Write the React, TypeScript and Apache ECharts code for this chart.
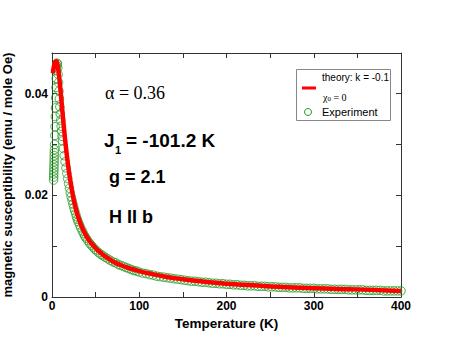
import React, { useEffect, useRef } from "react";
import * as echarts from "echarts";

// Experiment: [Temperature (K), susceptibility (emu / mole Oe)]
const experimentT = [
  1.8, 1.9, 2.0, 2.1, 2.2, 2.3, 2.4, 2.5, 2.6, 2.7, 2.8, 3.0, 3.3, 3.5, 3.8, 4.0, 4.3, 4.6, 4.9, 5.2,
  5.5, 5.8, 6.2, 6.6, 7.0, 7.5, 8.0, 8.5, 9.0, 9.5, 10, 10.5, 11, 11.5, 12, 13, 14, 15, 16, 17,
  18, 19, 20, 21, 22, 23, 24, 25, 26, 27, 28, 29, 30, 31.5, 33, 34.5, 36, 37.5, 39, 41,
  43, 45, 47, 49, 51, 53.5, 56, 58.5, 61, 64, 67, 70, 73, 76, 79, 82, 85, 88, 91, 94,
  97, 100, 104, 108, 112, 116, 120, 124, 128, 132, 136, 140, 144, 148, 152, 156, 160, 164, 168, 172,
  176, 180, 184, 188, 192, 196, 200, 204, 208, 212, 216, 220, 224, 228, 232, 236, 240, 244, 248, 252,
  256, 260, 264, 268, 272, 276, 280, 284, 288, 292, 296, 300, 304, 308, 312, 316, 320, 324, 328, 332,
  336, 340, 344, 348, 352, 356, 360, 364, 368, 372, 376, 380, 384, 388, 392, 396, 400,
];
const experimentChi = [
  0.0230, 0.0236, 0.0242, 0.0248, 0.0254, 0.0260, 0.0266, 0.0272, 0.0278, 0.0284, 0.0290, 0.0300, 0.0318, 0.0335, 0.0355, 0.0372, 0.0392, 0.0412, 0.0430, 0.0445,
  0.0455, 0.0460, 0.0458, 0.0450, 0.0438, 0.0422, 0.0405, 0.0390, 0.0374, 0.0360, 0.0348, 0.0336, 0.0326, 0.0316, 0.0307, 0.0292, 0.0278, 0.0266, 0.0254, 0.0243,
  0.0233, 0.0223, 0.0214, 0.0205, 0.0197, 0.0190, 0.0183, 0.0176, 0.0170, 0.0164, 0.0158, 0.0153, 0.0148, 0.0142, 0.0136, 0.0130, 0.0125, 0.0120, 0.0116, 0.0111,
  0.0106, 0.0102, 0.0098, 0.0094, 0.0091, 0.0087, 0.0084, 0.0081, 0.0078, 0.0075, 0.0072, 0.0069, 0.0067, 0.0064, 0.0062, 0.0060, 0.0058, 0.0056, 0.0054, 0.0052,
  0.0051, 0.0049, 0.0047, 0.0046, 0.0044, 0.0043, 0.0041, 0.0040, 0.0039, 0.0038, 0.0037, 0.0036, 0.0035, 0.0034, 0.0033, 0.0032, 0.0031, 0.0031, 0.0030, 0.0029,
  0.0029, 0.0028, 0.0027, 0.0027, 0.0026, 0.0026, 0.0025, 0.0025, 0.0024, 0.0024, 0.0023, 0.0023, 0.0022, 0.0022, 0.0022, 0.0021, 0.0021, 0.0021, 0.0020, 0.0020,
  0.0020, 0.0019, 0.0019, 0.0019, 0.0018, 0.0018, 0.0018, 0.0018, 0.0017, 0.0017, 0.0017, 0.0017, 0.0016, 0.0016, 0.0016, 0.0016, 0.0015, 0.0015, 0.0015, 0.0015,
  0.0015, 0.0014, 0.0014, 0.0014, 0.0014, 0.0014, 0.0013, 0.0013, 0.0013, 0.0013, 0.0013, 0.0012, 0.0012, 0.0012, 0.0012, 0.0012, 0.0012,
];

// Theory (k = -0.1, chi0 = 0)
const theoryT = [
  1, 2, 3, 4, 5, 6, 7, 8, 9, 10, 11, 12, 13, 14, 15, 16, 17, 18, 19, 20,
  22, 24, 26, 28, 30, 33, 36, 40, 45, 50, 55, 60, 70, 80, 90, 100, 115, 130, 150, 175,
  200, 230, 260, 300, 350, 400,
];
const theoryChi = [
  0.0440, 0.0452, 0.0459, 0.0463, 0.0464, 0.0460, 0.0450, 0.0436, 0.0420, 0.0402, 0.0383, 0.0364, 0.0345, 0.0327, 0.0310, 0.0294, 0.0279, 0.0265, 0.0252, 0.0240,
  0.0218, 0.0199, 0.0183, 0.0169, 0.0157, 0.0143, 0.0131, 0.0118, 0.0106, 0.0096, 0.0088, 0.0081, 0.0070, 0.0062, 0.0056, 0.0051, 0.0045, 0.0040, 0.0035, 0.0030,
  0.0026, 0.0023, 0.0020, 0.0017, 0.0015, 0.0012,
];

const xTickLabels = ["0", "100", "200", "300", "400"];
const yTickLabels = ["0", "0.02", "0.04"];

const SANS = "Liberation Sans, Arial, sans-serif";
const SERIF = "Liberation Serif, Times New Roman, serif";
const GREEN = "#1f9a1f";
const AXIS_COLOR = "#333";

export default function App() {
  const ref = useRef<HTMLDivElement>(null);

  useEffect(() => {
    document.body.style.margin = "0";
    if (!ref.current) return;
    const chart = echarts.init(ref.current, undefined, { renderer: "svg" });

    const expData = experimentT.map((t, i) => [t, experimentChi[i]]);
    const theoryData = theoryT.map((t, i) => [t, theoryChi[i]]);

    const xFmt = (v: number) => {
      const s = String(Math.round(v));
      return xTickLabels.includes(s) && Math.abs(v - Math.round(v)) < 1e-6 ? s : "";
    };
    const yFmt = (v: number) => {
      const r = Math.round(v * 1000) / 1000;
      const s = r === 0 ? "0" : r.toFixed(2);
      return yTickLabels.includes(s) && Math.abs(v - r) < 1e-6 && Math.round(r * 1000) % 20 === 0 ? s : "";
    };

    const axisLine = { show: true, onZero: false, lineStyle: { color: AXIS_COLOR, width: 1 } };
    const tick = { show: true, inside: true, length: 5, lineStyle: { color: AXIS_COLOR } };

    chart.setOption({
      animation: false,
      backgroundColor: "#fff",
      grid: { left: 52, right: 50, top: 53, bottom: 52, containLabel: false, outerBoundsMode: "none" },
      xAxis: [
        {
          type: "value",
          min: 0,
          max: 400,
          interval: 50,
          axisLine,
          axisTick: tick,
          splitLine: { show: false },
          axisLabel: {
            formatter: xFmt,
            color: "#000",
            fontFamily: SANS,
            fontWeight: "bold",
            fontSize: 12,
            margin: 3,
          },
          name: "Temperature (K)",
          nameLocation: "middle",
          nameGap: 15,
          nameTextStyle: { color: "#000", fontFamily: SANS, fontWeight: "bold", fontSize: 13.5 },
        },
        {
          type: "value",
          position: "top",
          min: 0,
          max: 400,
          interval: 50,
          axisLine,
          axisTick: tick,
          splitLine: { show: false },
          axisLabel: { show: false },
        },
      ],
      yAxis: [
        {
          type: "value",
          min: 0,
          max: 0.048,
          interval: 0.01,
          axisLine,
          axisTick: tick,
          splitLine: { show: false },
          axisLabel: {
            formatter: yFmt,
            color: "#000",
            fontFamily: SANS,
            fontWeight: "bold",
            fontSize: 12,
            margin: 4,
            showMaxLabel: false,
          },
          name: "magnetic susceptibility (emu / mole Oe)",
          nameLocation: "middle",
          nameGap: 34,
          nameTextStyle: { color: "#000", fontFamily: SANS, fontWeight: "bold", fontSize: 13 },
        },
        {
          type: "value",
          position: "right",
          min: 0,
          max: 0.048,
          interval: 0.01,
          axisLine,
          axisTick: tick,
          splitLine: { show: false },
          axisLabel: { show: false },
        },
      ],
      series: [
        {
          name: "Experiment",
          type: "scatter",
          data: expData,
          symbol: "circle",
          symbolSize: 8.5,
          itemStyle: { color: "rgba(0,0,0,0)", borderColor: GREEN, borderWidth: 1 },
          silent: true,
          z: 2,
        },
        {
          name: "theory: k = -0.1",
          type: "line",
          data: theoryData,
          smooth: true,
          showSymbol: false,
          lineStyle: { color: "#ff0000", width: 4.5 },
          silent: true,
          z: 3,
        },
      ],
      graphic: [
        {
          type: "text",
          left: 105,
          top: 84,
          style: { text: "α = 0.36", font: `18px ${SERIF}`, fill: "#000" },
        },
        {
          type: "text",
          x: 104,
          y: 140,
          style: { text: "J", font: `bold 19px ${SANS}`, fill: "#000", verticalAlign: "middle" },
        },
        {
          type: "text",
          x: 115,
          y: 150,
          style: { text: "1", font: `bold 11px ${SANS}`, fill: "#000", verticalAlign: "middle" },
        },
        {
          type: "text",
          x: 126,
          y: 140,
          style: { text: "= -101.2 K", font: `bold 19px ${SANS}`, fill: "#000", verticalAlign: "middle" },
        },
        {
          type: "text",
          x: 109,
          y: 177,
          style: { text: "g = 2.1", font: `bold 18px ${SANS}`, fill: "#000", verticalAlign: "middle" },
        },
        {
          type: "text",
          x: 109,
          y: 217,
          style: { text: "H II b", font: `bold 18px ${SANS}`, fill: "#000", verticalAlign: "middle" },
        },
        // legend
        {
          type: "rect",
          shape: { x: 296.5, y: 69.5, width: 94, height: 51 },
          style: { fill: "#fff", stroke: "#888", lineWidth: 1 },
          z: 10,
        },
        {
          type: "text",
          x: 322,
          y: 77,
          style: { text: "theory: k = -0.1", font: `10px ${SANS}`, fill: "#000", verticalAlign: "middle" },
          z: 11,
        },
        {
          type: "line",
          shape: { x1: 302, y1: 88, x2: 316, y2: 88 },
          style: { stroke: "#ff0000", lineWidth: 3 },
          z: 11,
        },
        {
          type: "text",
          x: 323,
          y: 97,
          style: {
            text: "{a|χ}{b|0}{a| = 0}",
            fill: "#000",
            verticalAlign: "middle",
            rich: {
              a: { font: `10px ${SERIF}`, fill: "#000" },
              b: { font: `7px ${SERIF}`, fill: "#000", padding: [4, 0, 0, 0] },
            },
          },
          z: 11,
        },
        {
          type: "circle",
          shape: { cx: 308, cy: 112, r: 3.5 },
          style: { fill: "none", stroke: GREEN, lineWidth: 1 },
          z: 11,
        },
        {
          type: "text",
          x: 322,
          y: 112,
          style: { text: "Experiment", font: `11px ${SANS}`, fill: "#000", verticalAlign: "middle" },
          z: 11,
        },
      ],
    });

    return () => chart.dispose();
  }, []);

  return <div ref={ref} style={{ width: 451, height: 349 }} />;
}
